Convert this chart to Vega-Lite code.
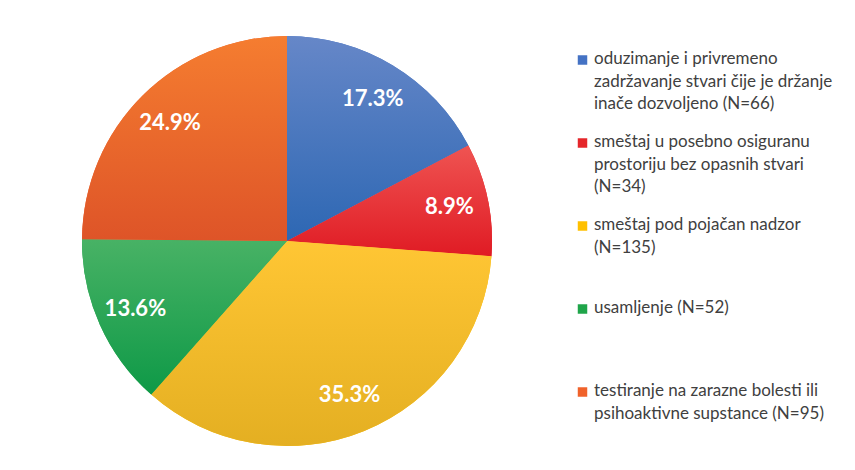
{
  "$schema": "https://vega.github.io/schema/vega-lite/v6.json",
  "width": 560,
  "height": 458,
  "autosize": {"type": "none"},
  "padding": {"left": 7, "top": 12, "right": 288, "bottom": 0},
  "background": "white",
  "config": {"view": {"stroke": null}},
  "data": {
    "values": [
      {"k": 1, "kategorija": "oduzimanje i privremeno|zadržavanje stvari čije je držanje|inače dozvoljeno (N=66)", "n": 66, "pct": "17.3%"},
      {"k": 2, "kategorija": "smeštaj u posebno osiguranu|prostoriju bez opasnih stvari|(N=34)", "n": 34, "pct": "8.9%"},
      {"k": 3, "kategorija": "smeštaj pod pojačan nadzor|(N=135)", "n": 135, "pct": "35.3%"},
      {"k": 4, "kategorija": "usamljenje (N=52)", "n": 52, "pct": "13.6%"},
      {"k": 5, "kategorija": "testiranje na zarazne bolesti ili|psihoaktivne supstance (N=95)", "n": 95, "pct": "24.9%"}
    ]
  },
  "layer": [
    {
      "mark": {"type": "arc", "outerRadius": 205},
      "encoding": {
        "theta": {"field": "n", "type": "quantitative", "stack": true},
        "order": {"field": "k", "type": "quantitative"},
        "color": {
          "field": "kategorija",
          "type": "nominal",
          "sort": null,
          "scale": {
            "domain": [
              "oduzimanje i privremeno|zadržavanje stvari čije je držanje|inače dozvoljeno (N=66)",
              "smeštaj u posebno osiguranu|prostoriju bez opasnih stvari|(N=34)",
              "smeštaj pod pojačan nadzor|(N=135)",
              "usamljenje (N=52)",
              "testiranje na zarazne bolesti ili|psihoaktivne supstance (N=95)"
            ],
            "range": ["#4472C4", "#E5262A", "#FFC000", "#1FA54A", "#F0622A"]
          },
          "legend": {
            "orient": "none",
            "legendX": 567,
            "legendY": 39.5,
            "title": null,
            "padding": 0,
            "symbolType": "square",
            "symbolSize": 90,
            "symbolStrokeWidth": 0,
            "symbolOpacity": 1,
            "labelFont": "Lato",
            "labelFontSize": 17,
            "labelColor": "#404040",
            "labelLimit": 320,
            "labelOffset": 3,
            "labelBaseline": "top",
            "labelExpr": "split(datum.label, '|')",
            "gridAlign": "all",
            "rowPadding": 20,
            "encode": {
              "labels": {"update": {"dy": {"value": -9}, "lineHeight": {"value": 22.5}}}
            }
          }
        }
      }
    },
    {
      "transform": [
        {"stack": "n", "groupby": [], "sort": [{"field": "k", "order": "ascending"}], "as": ["s0", "s1"]},
        {"filter": "datum.k == 1"}
      ],
      "mark": {"type": "arc", "outerRadius": 205, "fill": {"gradient": "linear", "x1": 0, "y1": 0, "x2": 0, "y2": 1, "stops": [{"offset": 0, "color": "#6687C8"}, {"offset": 1, "color": "#2D67B3"}]}},
      "encoding": {"theta": {"field": "s0", "type": "quantitative"}, "theta2": {"field": "s1"}}
    },
    {
      "transform": [
        {"stack": "n", "groupby": [], "sort": [{"field": "k", "order": "ascending"}], "as": ["s0", "s1"]},
        {"filter": "datum.k == 2"}
      ],
      "mark": {"type": "arc", "outerRadius": 205, "fill": {"gradient": "linear", "x1": 0, "y1": 0, "x2": 0, "y2": 1, "stops": [{"offset": 0, "color": "#EF5452"}, {"offset": 1, "color": "#E01B24"}]}},
      "encoding": {"theta": {"field": "s0", "type": "quantitative"}, "theta2": {"field": "s1"}}
    },
    {
      "transform": [
        {"stack": "n", "groupby": [], "sort": [{"field": "k", "order": "ascending"}], "as": ["s0", "s1"]},
        {"filter": "datum.k == 3"}
      ],
      "mark": {"type": "arc", "outerRadius": 205, "fill": {"gradient": "linear", "x1": 0, "y1": 0, "x2": 0, "y2": 1, "stops": [{"offset": 0, "color": "#FFC634"}, {"offset": 1, "color": "#E4AF22"}]}},
      "encoding": {"theta": {"field": "s0", "type": "quantitative"}, "theta2": {"field": "s1"}}
    },
    {
      "transform": [
        {"stack": "n", "groupby": [], "sort": [{"field": "k", "order": "ascending"}], "as": ["s0", "s1"]},
        {"filter": "datum.k == 4"}
      ],
      "mark": {"type": "arc", "outerRadius": 205, "fill": {"gradient": "linear", "x1": 0, "y1": 0, "x2": 0, "y2": 1, "stops": [{"offset": 0, "color": "#48B265"}, {"offset": 1, "color": "#0E9947"}]}},
      "encoding": {"theta": {"field": "s0", "type": "quantitative"}, "theta2": {"field": "s1"}}
    },
    {
      "transform": [
        {"stack": "n", "groupby": [], "sort": [{"field": "k", "order": "ascending"}], "as": ["s0", "s1"]},
        {"filter": "datum.k == 5"}
      ],
      "mark": {"type": "arc", "outerRadius": 205, "fill": {"gradient": "linear", "x1": 0, "y1": 0, "x2": 0, "y2": 1, "stops": [{"offset": 0, "color": "#F57D30"}, {"offset": 1, "color": "#DE5428"}]}},
      "encoding": {"theta": {"field": "s0", "type": "quantitative"}, "theta2": {"field": "s1"}}
    },
    {
      "mark": {"type": "text", "radius": 166, "font": "Lato", "fontWeight": "bold", "fontSize": 22, "fill": "white"},
      "encoding": {
        "theta": {"field": "n", "type": "quantitative", "stack": true},
        "order": {"field": "k", "type": "quantitative"},
        "detail": {"field": "kategorija", "type": "nominal"},
        "text": {"field": "pct", "type": "nominal"}
      }
    }
  ]
}
